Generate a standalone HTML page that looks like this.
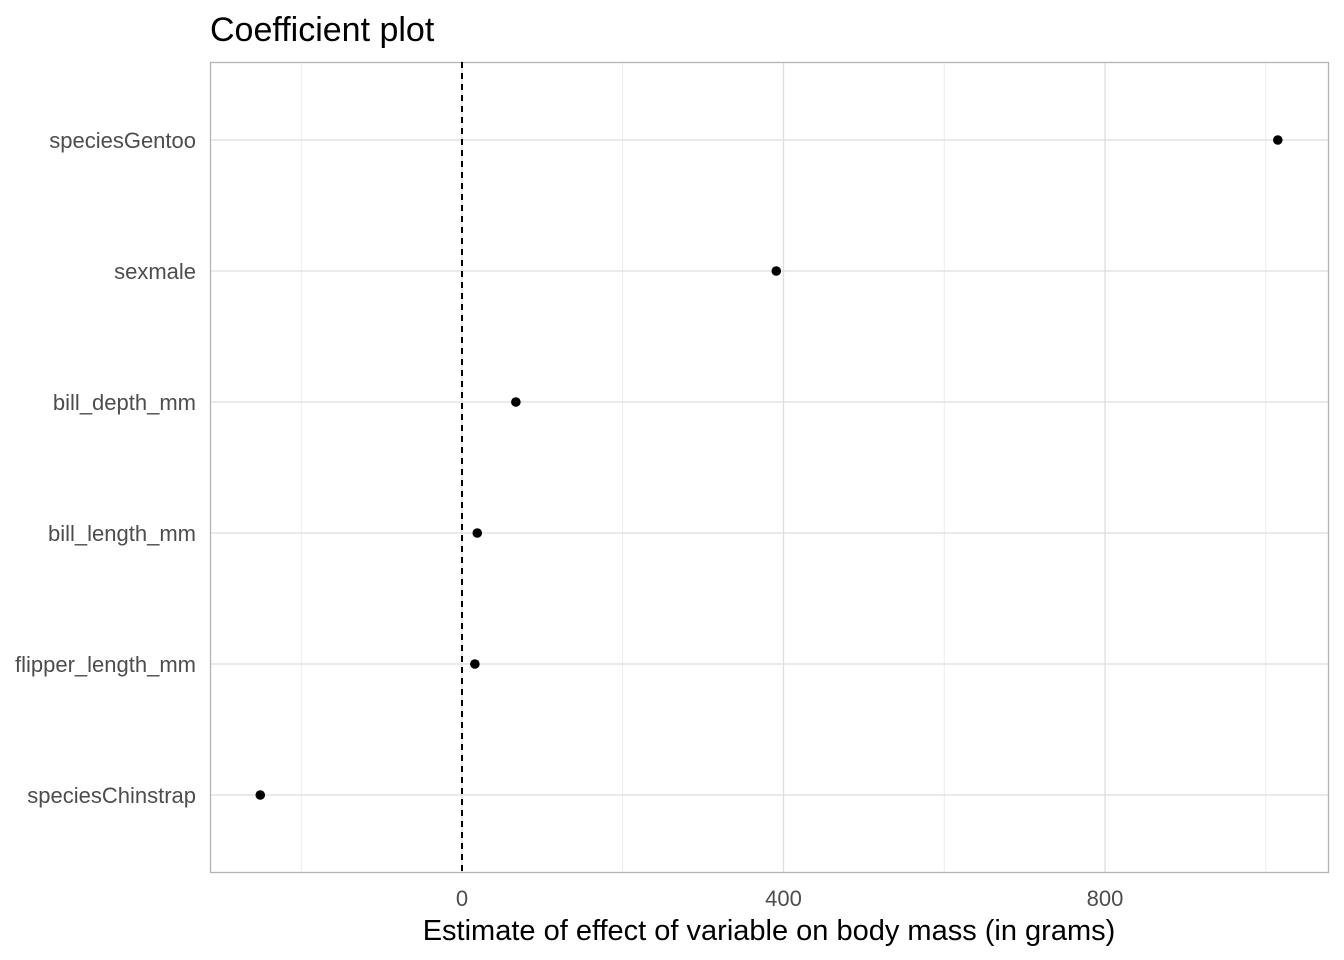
<!DOCTYPE html>
<html><head><meta charset="utf-8"><style>
html,body{margin:0;padding:0;background:#fff;}
svg{display:block;font-family:"Liberation Sans",Arial,sans-serif;}
</style></head><body>
<svg id="chart" width="1344" height="960">
<text x="210" y="41" font-size="34" fill="#000">Coefficient plot</text>
<g id="grid"></g>
<rect x="210.5" y="62.5" width="1118" height="810" fill="none" stroke="#b3b3b3" stroke-width="1.3"/>
<g id="marks"></g>
<text x="769" y="940" font-size="29" text-anchor="middle" fill="#000">Estimate of effect of variable on body mass (in grams)</text>
</svg>
<script>
const categories = ["speciesGentoo","sexmale","bill_depth_mm","bill_length_mm","flipper_length_mm","speciesChinstrap"];
const estimates = [1015, 391, 67, 19, 16, -251];
const majorTicks = [0, 400, 800];
const minorTicks = [-200, 200, 600, 1000];
const refValue = 0;

const NS = "http://www.w3.org/2000/svg";
const x = v => 462 + v * 0.80375;
const y = i => 140 + i * 131;
const grid = document.getElementById('grid');
const marks = document.getElementById('marks');
function mk(tag, attrs, parent){const e=document.createElementNS(NS,tag);for(const k in attrs)e.setAttribute(k,attrs[k]);parent.appendChild(e);return e;}

minorTicks.forEach(t=>{
  const l=mk('line',{x1:x(t),x2:x(t),y1:62,y2:872,stroke:'#ebebeb','stroke-width':0.9},grid);
  
  
});
majorTicks.forEach(t=>{
  const l=mk('line',{x1:x(t),x2:x(t),y1:62,y2:872,stroke:'#dedede','stroke-width':1.3},grid);
  
  
  const tx=mk('text',{x:x(t),y:906,'font-size':22,'text-anchor':'middle',fill:'#4d4d4d'},grid);
  tx.textContent=t;
  
  
});
categories.forEach((c,i)=>{
  const l=mk('line',{x1:210,x2:1328,y1:y(i),y2:y(i),stroke:'#dedede','stroke-width':1.3},grid);
  
  
  const tx=mk('text',{x:196,y:y(i)+8,'font-size':22,'text-anchor':'end',fill:'#4d4d4d'},grid);
  tx.textContent=c;
  
  
});
const ref=mk('line',{x1:x(refValue),x2:x(refValue),y1:62,y2:872,stroke:'#000','stroke-width':2,'stroke-dasharray':'6,5'},marks);


estimates.forEach((v,i)=>{
  const p=mk('circle',{cx:x(v),cy:y(i),r:4.8,fill:'#000'},marks);
  
  
});
</script>
</body></html>
